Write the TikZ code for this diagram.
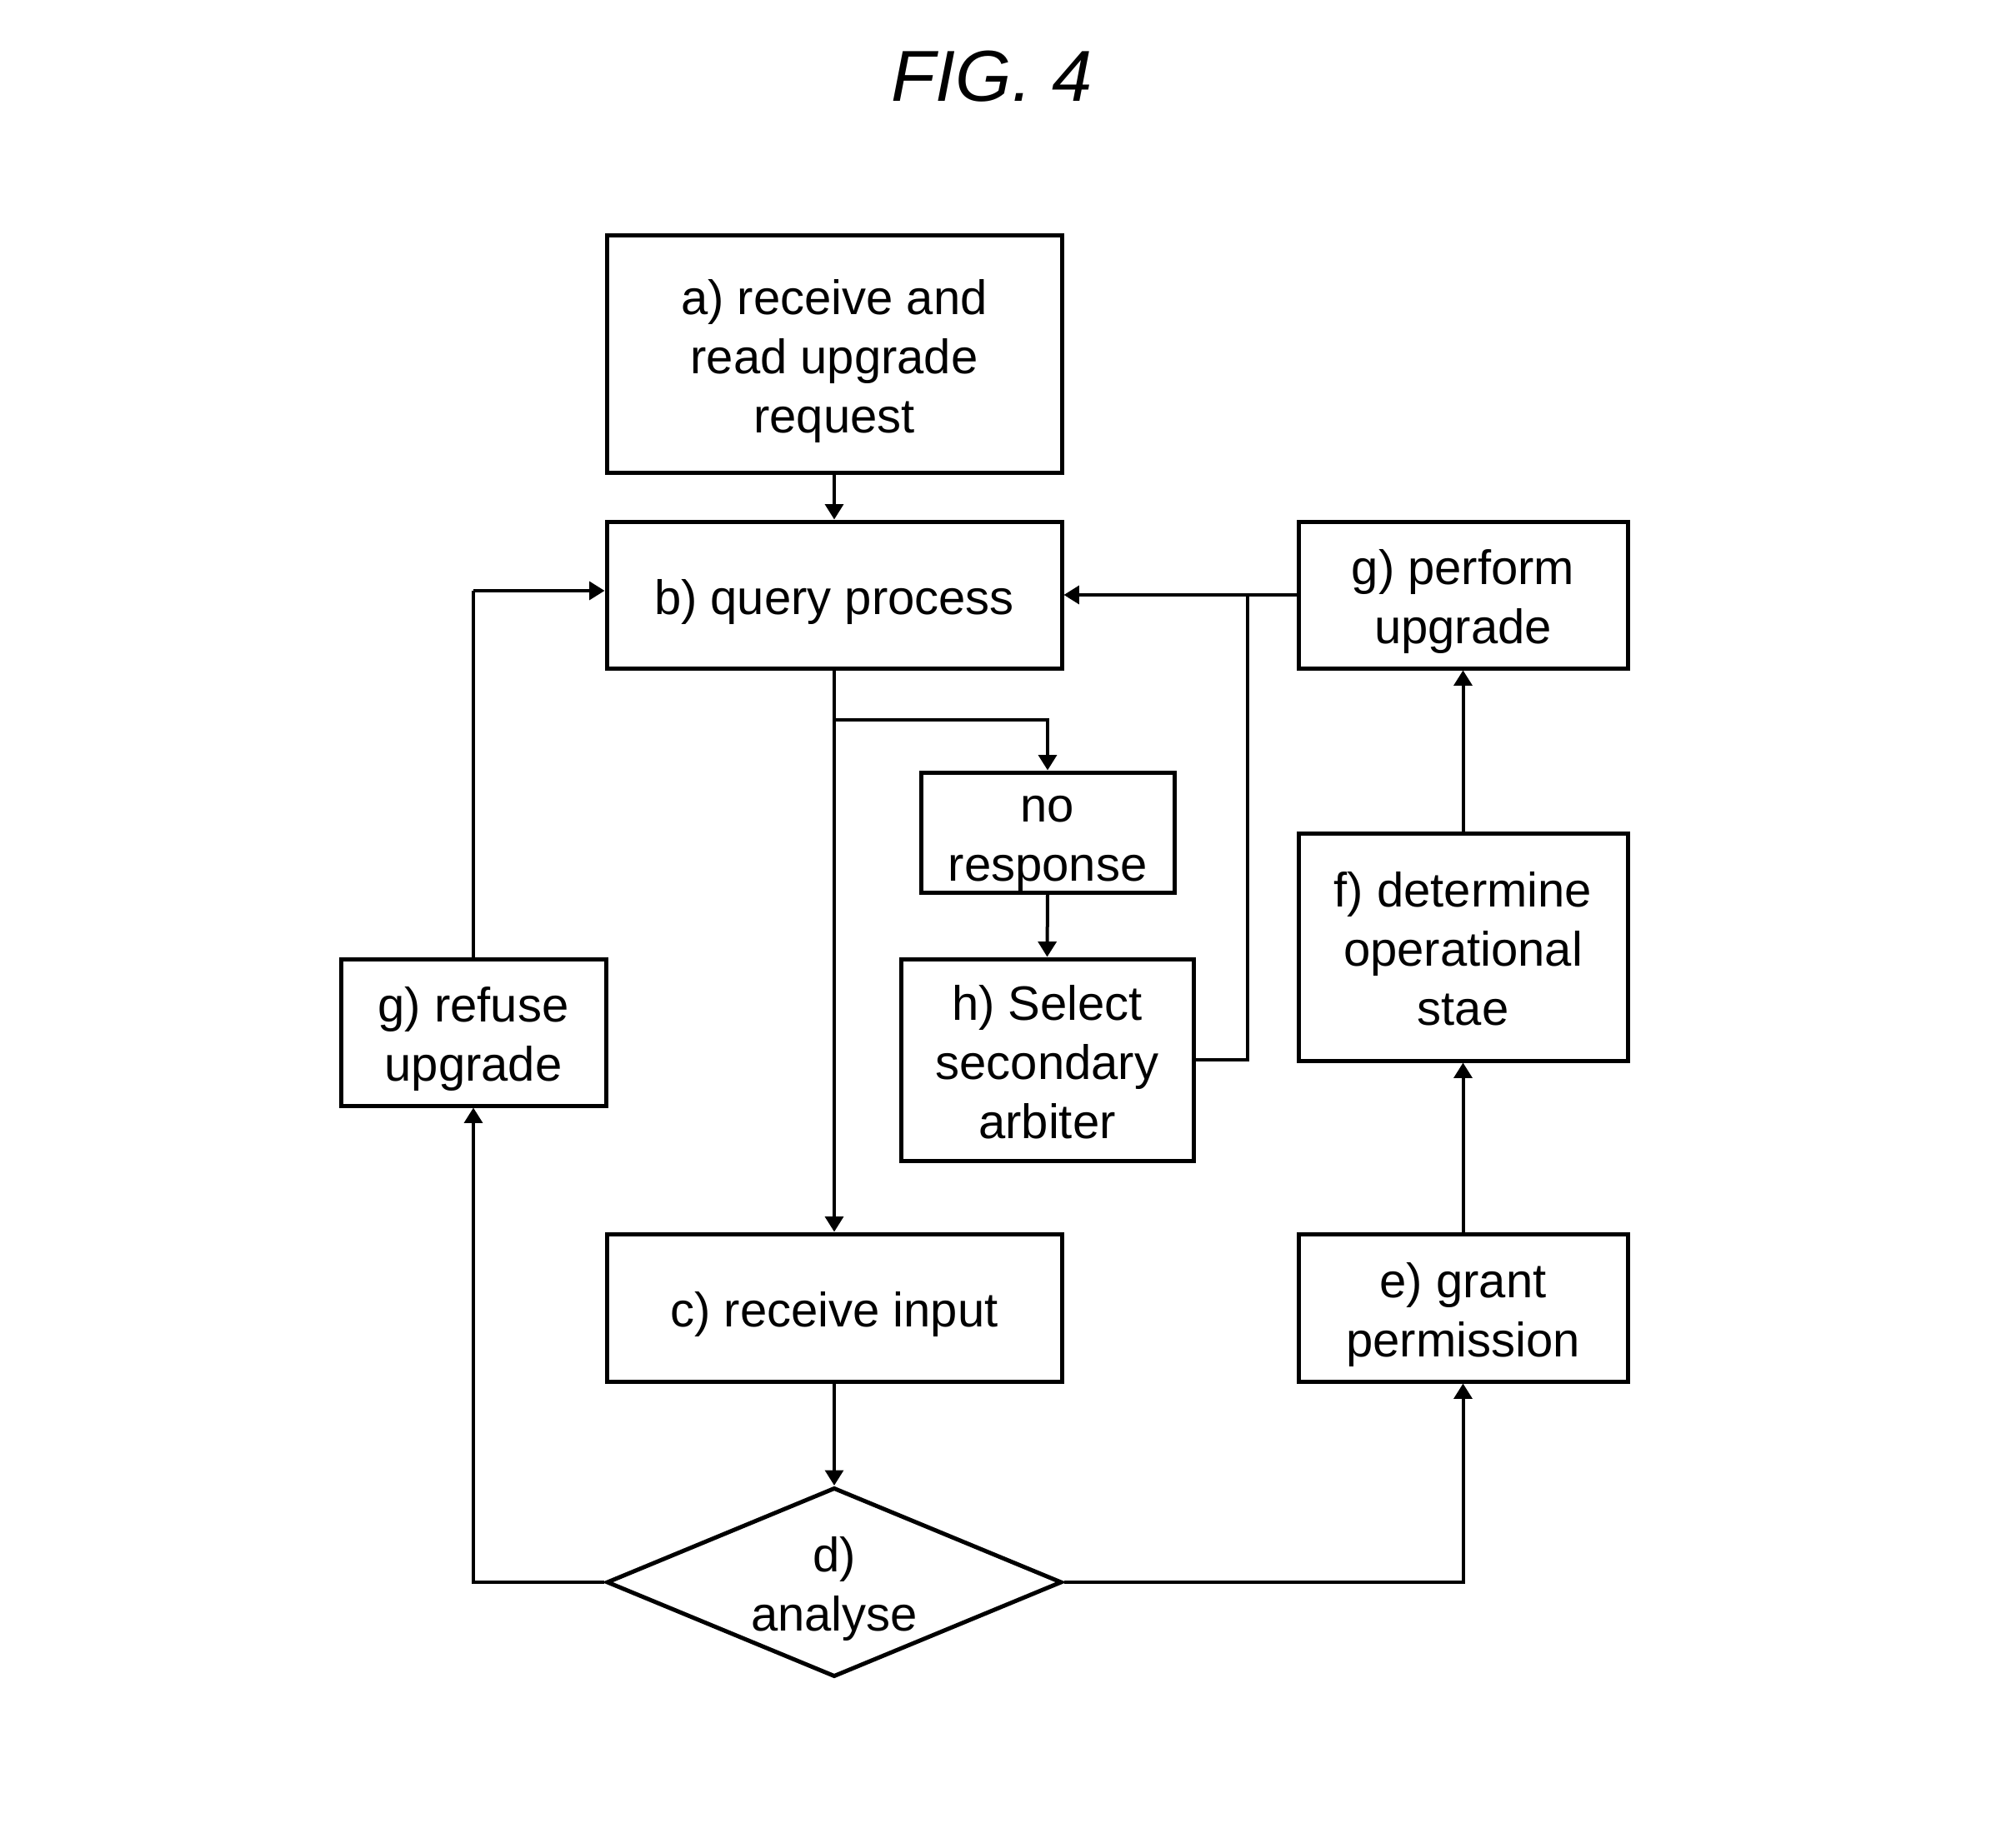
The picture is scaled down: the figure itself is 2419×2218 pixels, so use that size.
\documentclass[tikz,border=0pt]{standalone}
\usepackage{fontspec}
\setmainfont{Liberation Sans}
\usetikzlibrary{arrows.meta,shapes.geometric}
\newcommand\ls{\rule[-4pt]{0pt}{17.3pt}}
\newcommand\fl{\rule[-4pt]{0pt}{21.9pt}}
\begin{document}
\begin{tikzpicture}[x=0.3pt,y=-0.3pt,
  box/.style={draw=black,line width=1.5pt,rectangle,inner sep=0pt,align=center,
    font=\fontsize{17.4pt}{21.3pt}\selectfont},
  dia/.style={draw=black,line width=1.5pt,diamond,aspect=2.405,inner sep=0pt,align=center,
    font=\fontsize{17.4pt}{21.3pt}\selectfont},
  conn/.style={draw=black,line width=1.2pt},
  arr/.style={conn,-{Triangle[width=6.5pt,length=5.5pt]}}]
\useasboundingbox (0,0) rectangle (2419,2218);
\node[anchor=base,font=\fontsize{26pt}{30pt}\selectfont\itshape] (title) at (1190,122) {FIG. 4};
\node[box,minimum width=163.8pt,minimum height=85.8pt] (a) at (1001,425) {\fl a) receive and\\\ls read upgrade\\\ls request};
\node[box,minimum width=163.8pt,minimum height=52.8pt] (b) at (1001,714) {\fl b) query process};
\node[box,minimum width=118.5pt,minimum height=52.8pt] (g1) at (1755.5,714) {\fl g) perform\\\ls upgrade};
\node[box,minimum width=91.2pt,minimum height=43.2pt] (nr) at (1257,999) {\fl no\\\ls response};
\node[box,minimum width=105.3pt,minimum height=72.6pt] (h) at (1256.5,1272) {\fl h) Select\\\ls secondary\\\ls arbiter};
\node[box,minimum width=118.5pt,minimum height=81.9pt] (f) at (1755.5,1136.5) {\fl f) determine\\\ls operational\\\ls stae};
\node[box,minimum width=95.4pt,minimum height=52.8pt] (gr) at (568,1239) {\fl g) refuse\\\ls upgrade};
\node[box,minimum width=163.8pt,minimum height=53.1pt] (c) at (1001,1569.5) {\fl c) receive input};
\node[box,minimum width=118.5pt,minimum height=53.1pt] (e) at (1755.5,1569.5) {\fl e) grant\\\ls permission};
\node[dia,minimum width=163.8pt,minimum height=68.1pt] (d) at (1001,1899) {\fl d)\\\ls analyse};
\coordinate (br) at (1001,864);
\coordinate (j) at (1497,714);
\coordinate (rt) at (568,709);
% connectors
\draw[arr] (a.south) -- (b.north);
\draw[arr] (b.south) -- (c.north);
\draw[arr] (br) -| (nr.north);
\draw[arr] (nr.south) -- (h.north);
\draw[conn] (h.east) -| (j);
\draw[arr] (g1.west) -- (b.east);
\draw[arr] (f.north) -- (g1.south);
\draw[arr] (e.north) -- (f.south);
\draw[arr] (d.east) -| (e.south);
\draw[arr] (d.west) -| (gr.south);
\draw[conn] (gr.north) -- (rt);
\draw[arr] (rt) -- (rt -| b.west);
\draw[arr] (c.south) -- (d.north);
\end{tikzpicture}
\end{document}
